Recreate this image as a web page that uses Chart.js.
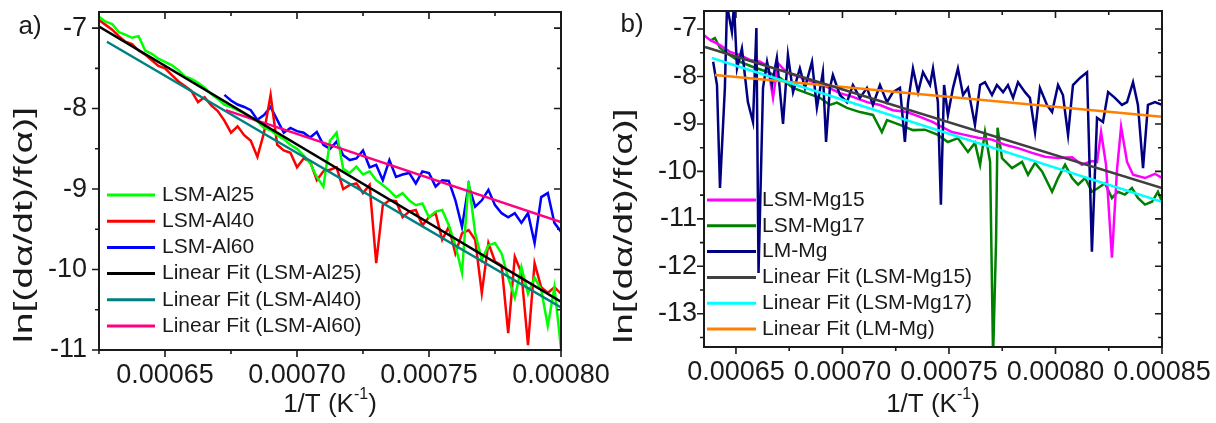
<!DOCTYPE html>
<html>
<head>
<meta charset="utf-8">
<script src="https://cdn.jsdelivr.net/npm/chart.js@4.4.0/dist/chart.umd.min.js"></script>
<style>
  html, body { margin: 0; background: #fff; }
  #wrap { position: relative; width: 1216px; height: 423px; overflow: hidden; }
  canvas { position: absolute; top: 0; }
  #panelA { left: 0; }
  #panelB { left: 610px; }
</style>
</head>
<body>
<div id="wrap">
  <canvas id="panelA" width="610" height="423"></canvas>
  <canvas id="panelB" width="606" height="423"></canvas>
</div>
<script>
// ---- tick labels ----
const xTicksA = [0.00065, 0.0007, 0.00075, 0.0008];
const yTicksA = [-11, -10, -9, -8, -7];
const xTicksB = [0.00065, 0.0007, 0.00075, 0.0008, 0.00085];
const yTicksB = [-13, -12, -11, -10, -9, -8, -7];

// ---- panel a) : LSM-Al samples, 1/T grid shared by the three curves ----
const alX = [0.000625, 0.0006275, 0.00063, 0.0006325, 0.000635, 0.0006375, 0.00064, 0.0006425, 0.000645, 0.0006475,
  0.00065, 0.0006525, 0.000655, 0.0006575, 0.00066, 0.0006625, 0.000665, 0.0006675, 0.00067, 0.0006725,
  0.000675, 0.0006775, 0.00068, 0.0006825, 0.000685, 0.0006875, 0.00069, 0.0006925, 0.000695, 0.0006975,
  0.0007, 0.0007025, 0.000705, 0.0007075, 0.00071, 0.0007125, 0.000715, 0.0007175, 0.00072, 0.0007225,
  0.000725, 0.0007275, 0.00073, 0.0007325, 0.000735, 0.0007375, 0.00074, 0.0007425, 0.000745, 0.0007475,
  0.00075, 0.0007525, 0.000755, 0.0007575, 0.00076, 0.0007625, 0.000765, 0.0007675, 0.00077, 0.0007725,
  0.000775, 0.0007775, 0.00078, 0.0007825, 0.000785, 0.0007875, 0.00079, 0.0007925, 0.000795, 0.0007975, 0.0008];

const al25Y = [-6.86, -6.92, -6.95, -7.05, -7.08, -7.12, -7.10, -7.28, -7.32, -7.38,
  -7.42, -7.46, -7.52, -7.60, -7.63, -7.68, -7.74, -7.82, -7.88, -7.95,
  -7.98, -8.02, -8.06, -8.12, -8.16, -8.24, -8.27, -8.33, -8.38, -8.45,
  -8.50, -8.58, -8.68, -8.85, -8.97, -8.40, -8.30, -8.75, -8.80, -8.72,
  -8.82, -8.78, -8.89, -8.95, -9.02, -9.10, -9.05, -9.14, -9.20, -9.18,
  -9.35, -9.28, -9.26, -9.45, -9.70, -10.04, -8.90, -9.55, -9.88, -9.70,
  -9.67, -9.80, -10.10, -10.35, -9.97, -10.30, -10.10, -10.25, -10.70, -10.22, -10.98];

const al40Y = [-6.90, -6.96, -7.02, -7.10, -7.17, -7.20, -7.28, -7.33, -7.40, -7.47,
  -7.50, -7.58, -7.66, -7.72, -7.78, -7.92, -7.86, -7.96, -8.03, -8.15,
  -8.30, -8.22, -8.33, -8.40, -8.60, -8.30, -7.83, -8.45, -8.52, -8.55,
  -8.73, -8.62, -8.66, -8.89, -8.78, -8.76, -8.73, -9.00, -8.95, -8.93,
  -9.05, -8.95, -9.92, -9.20, -9.14, -9.15, -9.35, -9.28, -9.26, -9.45,
  -9.35, -9.30, -9.63, -9.47, -9.80, -9.55, -9.51, -9.63, -10.29, -9.67,
  -9.90, -9.95, -10.79, -9.84, -10.04, -10.94, -9.92, -10.22, -10.29, -10.22, -10.30];

// LSM-Al60 only starts at 1/T = 0.0006725
const al60X = alX.slice(19);
const al60Y = [-7.83, -7.90, -7.95, -7.98, -8.02, -8.14, -8.08, -7.98, -8.14, -8.30,
  -8.24, -8.28, -8.30, -8.36, -8.29, -8.45, -8.50, -8.41, -8.58, -8.64,
  -8.62, -8.52, -8.73, -8.70, -8.89, -8.64, -8.85, -8.82, -8.80, -8.93,
  -8.78, -8.80, -8.97, -8.89, -8.90, -9.14, -9.47, -8.95, -9.22, -9.14,
  -9.01, -9.20, -9.30, -9.35, -9.30, -9.42, -9.30, -9.67, -9.10, -9.05, -9.42, -9.53];

const fitAl25X = [0.000625, 0.0008], fitAl25Y = [-6.98, -10.40];
const fitAl40X = [0.000628, 0.0008], fitAl40Y = [-7.17, -10.47];
const fitAl60X = [0.000673, 0.0008], fitAl60Y = [-8.02, -9.41];

// ---- panel b) : LSM-Mg / LM-Mg samples ----
const mg15X = [0.000635, 0.0006378, 0.0006425, 0.0006472, 0.0006519, 0.0006566, 0.0006613, 0.000665, 0.0006674, 0.0006697,
  0.0006739, 0.00068, 0.0006862, 0.0006927, 0.0006988, 0.0007049, 0.0007115, 0.0007176, 0.0007237, 0.0007303,
  0.0007364, 0.0007425, 0.0007448, 0.0007514, 0.0007575, 0.0007636, 0.0007702, 0.0007763, 0.0007824, 0.000789,
  0.0007951, 0.0008012, 0.0008078, 0.0008124, 0.0008171, 0.0008195, 0.0008214, 0.0008237, 0.0008265, 0.0008289,
  0.0008308, 0.0008336, 0.0008364, 0.000842, 0.0008467, 0.00085];
const mg15Y = [-7.13, -7.23, -7.34, -7.48, -7.55, -7.65, -7.69, -7.78, -8.45, -7.72,
  -7.92, -8.01, -8.12, -8.22, -8.35, -8.43, -8.54, -8.60, -8.71, -8.75,
  -8.85, -8.96, -9.02, -9.17, -9.23, -9.29, -9.33, -9.44, -9.51, -9.61,
  -9.69, -9.72, -9.70, -9.86, -9.78, -9.80, -9.17, -9.85, -11.82, -9.95,
  -9.06, -9.80, -10.07, -10.14, -10.05, -10.14];

const mg17X = [0.0006378, 0.0006401, 0.0006425, 0.0006472, 0.0006519, 0.000658, 0.0006646, 0.0006707, 0.0006768, 0.0006833,
  0.0006894, 0.0006941, 0.0006974, 0.0007021, 0.0007082, 0.0007143, 0.0007185, 0.0007209, 0.000727, 0.0007331,
  0.0007387, 0.0007448, 0.0007495, 0.0007542, 0.0007589, 0.0007622, 0.0007646, 0.0007669, 0.0007693, 0.0007707,
  0.0007721, 0.0007728, 0.0007749, 0.0007796, 0.0007843, 0.0007871, 0.0007904, 0.0007937, 0.0007984, 0.0008012,
  0.0008045, 0.0008078, 0.0008106, 0.0008139, 0.0008171, 0.00082, 0.0008232, 0.0008265, 0.0008293, 0.0008326,
  0.0008359, 0.0008387, 0.000842, 0.0008453, 0.0008481, 0.00085];
const mg17Y = [-7.25, -7.19, -7.40, -7.55, -7.69, -7.80, -7.90, -8.03, -8.24, -8.35,
  -8.45, -8.60, -8.55, -8.66, -8.75, -8.81, -9.17, -8.92, -9.02, -9.13,
  -9.12, -9.23, -9.38, -9.30, -9.59, -9.40, -9.86, -9.17, -9.80, -13.9,
  -11.48, -9.08, -9.72, -9.93, -9.80, -10.07, -9.82, -10.00, -10.43, -10.14,
  -9.86, -10.14, -10.28, -10.14, -10.43, -10.35, -10.25, -10.56, -10.43, -10.49,
  -10.35, -10.56, -10.70, -10.64, -10.43, -10.64];

const lmMgX = [0.0006393, 0.0006411, 0.0006425, 0.0006448, 0.0006458, 0.0006481, 0.0006491, 0.0006505, 0.0006528, 0.0006556,
  0.000658, 0.0006596, 0.0006606, 0.0006627, 0.0006646, 0.0006669, 0.0006692, 0.0006721, 0.0006744, 0.0006768,
  0.00068, 0.0006824, 0.0006857, 0.000688, 0.0006908, 0.0006923, 0.0006941, 0.0006955, 0.0006988, 0.0007021,
  0.0007049, 0.0007082, 0.0007115, 0.0007143, 0.0007176, 0.0007209, 0.0007237, 0.000727, 0.0007293, 0.0007308,
  0.0007331, 0.0007355, 0.0007378, 0.0007411, 0.0007425, 0.0007448, 0.0007462, 0.0007477, 0.0007495, 0.0007519,
  0.0007542, 0.0007566, 0.0007589, 0.0007622, 0.0007646, 0.0007669, 0.0007702, 0.0007725, 0.0007754, 0.0007777,
  0.0007801, 0.0007824, 0.0007857, 0.000788, 0.0007904, 0.0007927, 0.000796, 0.0007984, 0.0008012, 0.0008035,
  0.0008059, 0.0008082, 0.0008115, 0.0008148, 0.0008171, 0.0008195, 0.0008223, 0.0008247, 0.0008279, 0.0008312,
  0.0008336, 0.0008364, 0.0008387, 0.0008411, 0.0008434, 0.0008467, 0.00085];
const lmMgY = [-7.69, -8.18, -10.35, -8.24, -6.50, -7.06, -6.50, -7.83, -7.41, -8.54,
  -8.96, -6.98, -12.14, -8.24, -7.69, -8.18, -7.61, -9.00, -7.55, -8.33,
  -7.83, -8.24, -7.69, -8.66, -7.91, -9.38, -8.24, -7.97, -8.39, -8.54,
  -8.18, -8.45, -8.24, -8.60, -8.18, -8.54, -8.33, -8.24, -9.38, -8.54,
  -7.83, -8.33, -7.91, -8.18, -7.83, -8.54, -10.70, -8.18, -8.81, -8.24,
  -7.83, -8.39, -8.24, -9.02, -8.18, -8.12, -8.39, -8.18, -8.33, -8.18,
  -8.45, -8.12, -8.33, -8.45, -9.17, -8.24, -8.60, -8.75, -8.18, -8.39,
  -9.23, -8.18, -8.03, -7.91, -11.69, -8.87, -8.96, -8.33, -8.45, -8.60,
  -8.54, -8.12, -8.60, -9.93, -8.60, -8.54, -8.60];

const fitMg15X = [0.0006355, 0.00085], fitMg15Y = [-7.38, -10.35];
const fitMg17X = [0.0006387, 0.00085], fitMg17Y = [-7.61, -10.64];
const fitLmX = [0.0006401, 0.00085], fitLmY = [-7.97, -8.85];

const FONT = "'Liberation Sans', Arial, sans-serif";
const INK = '#1a1a1a';
const Y_TITLE = 'ln[(d\u03b1/dt)/f(\u03b1)]';

const pts = (xs, ys) => xs.map((x, i) => ({ x, y: ys[i] }));

// fits are drawn over the raw curves (lower order = drawn later)
const series = (label, color, xs, ys, order) => ({
  label, data: pts(xs, ys), borderColor: color, borderWidth: 2.5,
  pointRadius: 0, tension: 0, fill: false, order
});

// frame, ticks (major + minor), legend and free text
const framePlugin = {
  id: 'frame',
  afterDatasetsDraw(chart, args, o) {
    const { ctx, chartArea: a, scales: { x, y } } = chart;
    ctx.save();
    ctx.strokeStyle = INK;
    ctx.lineWidth = 2;
    ctx.strokeRect(a.left, a.top, a.right - a.left, a.bottom - a.top);

    const isMajor = (s, v, m) => s.ticks.some(t => Math.abs(t.value - v) < m / 10);
    ctx.lineWidth = 1.6;
    ctx.beginPath();
    for (let k = Math.ceil(x.min / o.xMinor - 1e-6); k * o.xMinor <= x.max + o.xMinor / 100; k++) {
      const v = k * o.xMinor, px = x.getPixelForValue(v);
      const len = isMajor(x, v, o.xMinor) ? 7 : 4;
      ctx.moveTo(px, a.bottom); ctx.lineTo(px, a.bottom + len);
      ctx.moveTo(px, a.top); ctx.lineTo(px, a.top + len);
    }
    for (let k = Math.ceil(y.min / o.yMinor - 1e-6); k * o.yMinor <= y.max + 1e-6; k++) {
      const v = k * o.yMinor, py = y.getPixelForValue(v);
      const len = isMajor(y, v, o.yMinor) ? 7 : 4;
      ctx.moveTo(a.left - len, py); ctx.lineTo(a.left, py);
      ctx.moveTo(a.right - len, py); ctx.lineTo(a.right, py);
    }
    ctx.stroke();

    // legend
    const lg = o.legend;
    ctx.font = `21px ${FONT}`;
    ctx.textBaseline = 'middle';
    ctx.textAlign = 'left';
    ctx.fillStyle = INK;
    chart.data.datasets.forEach((ds, i) => {
      const ly = lg.y + i * lg.dy;
      ctx.strokeStyle = ds.borderColor;
      ctx.lineWidth = 3;
      ctx.beginPath();
      ctx.moveTo(lg.x, ly); ctx.lineTo(lg.x + lg.len, ly);
      ctx.stroke();
      ctx.fillText(ds.label, lg.x + lg.len + lg.gap, ly);
    });

    // panel letter
    ctx.font = `26px ${FONT}`;
    ctx.textAlign = 'center';
    ctx.fillText(o.letter.text, o.letter.x, o.letter.y);

    // x title with superscript
    const cx = (a.left + a.right) / 2, ty = o.xTitleY;
    const big = `26px ${FONT}`, small = `16px ${FONT}`;
    ctx.textAlign = 'left';
    ctx.font = big;
    const w1 = ctx.measureText('1/T (K').width, w3 = ctx.measureText(')').width;
    ctx.font = small;
    const w2 = ctx.measureText('-1').width;
    const sx = cx - (w1 + w2 + w3) / 2;
    ctx.font = big; ctx.fillText('1/T (K', sx, ty);
    ctx.font = small; ctx.fillText('-1', sx + w1, ty - 10);
    ctx.font = big; ctx.fillText(')', sx + w1 + w2, ty);

    // y title, stretched along its length like the original
    ctx.save();
    ctx.translate(o.yTitle.x, o.yTitle.y);
    ctx.rotate(-Math.PI / 2);
    ctx.font = big;
    const wy = ctx.measureText(Y_TITLE).width;
    ctx.scale(o.yTitle.len / wy, 1);
    ctx.textAlign = 'center';
    ctx.fillText(Y_TITLE, 0, 0);
    ctx.restore();

    ctx.restore();
  }
};

function makeChart(id, p) {
  const tickFont = { family: FONT, size: 27 };
  return new Chart(document.getElementById(id), {
    type: 'line',
    data: { datasets: p.datasets },
    options: {
      responsive: false,
      animation: false,
      devicePixelRatio: 1,
      layout: { padding: p.padding },
      plugins: { legend: { display: false }, tooltip: { enabled: false }, frame: p.frame },
      scales: {
        x: {
          type: 'linear', min: p.xMin, max: p.xMax,
          afterBuildTicks: s => { s.ticks = p.xTicks.map(value => ({ value })); },
          afterFit: s => { s.height = p.xHeight; s.paddingLeft = 0; s.paddingRight = 0; s.paddingTop = 0; s.paddingBottom = 0; },
          grid: { display: false, drawTicks: false },
          border: { display: false },
          ticks: {
            autoSkip: false, maxRotation: 0,
            padding: 9, color: INK, font: tickFont,
            callback: v => v.toFixed(5)
          }
        },
        y: {
          type: 'linear', min: p.yMin, max: p.yMax,
          afterBuildTicks: s => { s.ticks = p.yTicks.map(value => ({ value })); },
          afterFit: s => { s.width = p.yWidth; s.paddingLeft = 0; s.paddingRight = 0; s.paddingTop = 0; s.paddingBottom = 0; },
          grid: { display: false, drawTicks: false },
          border: { display: false },
          ticks: {
            autoSkip: false,
            padding: p.yPad, color: INK, font: tickFont,
            callback: v => String(Math.round(v))
          }
        }
      }
    },
    plugins: [framePlugin]
  });
}

makeChart('panelA', {
  datasets: [
    series('LSM-Al25', '#00ff00', alX, al25Y, 2),
    series('LSM-Al40', '#ff0000', alX, al40Y, 2),
    series('LSM-Al60', '#0000ff', al60X, al60Y, 2),
    series('Linear Fit (LSM-Al25)', '#000000', fitAl25X, fitAl25Y, 0),
    series('Linear Fit (LSM-Al40)', '#008080', fitAl40X, fitAl40Y, 1),
    series('Linear Fit (LSM-Al60)', '#ff0080', fitAl60X, fitAl60Y, 0)
  ],
  padding: { left: 0, top: 12, right: 49, bottom: 0 },
  xMin: 0.000625, xMax: 0.0008, yMin: -11, yMax: -6.8,
  xTicks: xTicksA, yTicks: yTicksA,
  xHeight: 73, yWidth: 99, yPad: 12,
  frame: {
    xMinor: 0.000025, yMinor: 0.5,
    legend: { x: 107, y: 195, dy: 26.2, len: 48, gap: 7 },
    letter: { text: 'a)', x: 30, y: 27 },
    xTitleY: 405,
    yTitle: { x: 25, y: 225, len: 236 }
  }
});

makeChart('panelB', {
  datasets: [
    series('LSM-Mg15', '#ff00ff', mg15X, mg15Y, 2),
    series('LSM-Mg17', '#008000', mg17X, mg17Y, 2),
    series('LM-Mg', '#000080', lmMgX, lmMgY, 1),
    series('Linear Fit (LSM-Mg15)', '#404040', fitMg15X, fitMg15Y, 0),
    series('Linear Fit (LSM-Mg17)', '#00ffff', fitMg17X, fitMg17Y, 0),
    series('Linear Fit (LM-Mg)', '#ff8000', fitLmX, fitLmY, 0)
  ],
  padding: { left: 0, top: 11, right: 54, bottom: 0 },
  xMin: 0.000635, xMax: 0.00085, yMin: -13.7, yMax: -6.62,
  xTicks: xTicksB, yTicks: yTicksB,
  xHeight: 76, yWidth: 94, yPad: 7,
  frame: {
    xMinor: 0.000025, yMinor: 0.5,
    legend: { x: 97, y: 200, dy: 25.8, len: 49, gap: 6 },
    letter: { text: 'b)', x: 22, y: 25 },
    xTitleY: 405,
    yTitle: { x: 15, y: 226, len: 235 }
  }
});
</script>
</body>
</html>
